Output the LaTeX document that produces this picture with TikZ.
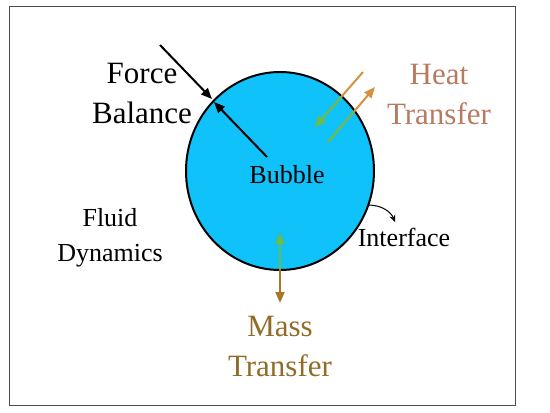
\documentclass[tikz,border=0pt]{standalone}
\usepackage{fontspec}
\setmainfont{Liberation Serif}
\usetikzlibrary{arrows.meta,shapes.geometric}
\definecolor{bub}{RGB}{16,194,250}
\definecolor{heatc}{RGB}{185,122,98}
\definecolor{massc}{RGB}{145,108,40}
\definecolor{orA}{RGB}{214,145,60}
\definecolor{orM}{RGB}{168,118,38}
\definecolor{grn}{RGB}{104,190,74}
\tikzset{
  big/.style={align=center, inner sep=0pt, font=\fontsize{31}{40}\selectfont},
  small/.style={align=center, inner sep=0pt, font=\fontsize{26}{35}\selectfont},
  arr/.style={line width=2pt, -{Triangle[length=11pt,width=9pt]}},
  arrs/.style={line width=2pt, {Triangle[length=11pt,width=9pt]}-{Triangle[length=11pt,width=9pt]}}
}
\begin{document}
\begin{tikzpicture}[x=1pt,y=-1pt]
\useasboundingbox (0,0) rectangle (550,413);
\draw[black!70, line width=0.9pt] (9,6) rectangle (515,405);
\node[ellipse, draw, fill=bub, line width=2pt, minimum width=188pt, minimum height=198pt, inner sep=0pt] (bubble) at (280,171) {};
% labels
\node[big] (force) at (142,93) {Force\\Balance};
\node[big, text=heatc] (heat) at (439,94) {Heat\\Transfer};
\node[big, text=massc] (mass) at (280,346) {Mass\\Transfer};
\node[small] (bubtxt) at (287,175) {Bubble};
\node[small] (fluid) at (110,238) {Fluid\\Dynamics};
\node[small] (iface) at (404,237) {Interface};
% coordinates
\coordinate (fa) at (160,45);
\coordinate (fb) at (212,99);
\coordinate (fc) at (267,157);
\coordinate (fd) at (214,102);
\coordinate (h1s) at (363,72);
\coordinate (h1e) at (315,127);
\coordinate (h2s) at (328,142);
\coordinate (h2e) at (375,87);
\coordinate (m1) at (280,233);
\coordinate (m2) at (280,303);
\coordinate (is) at (368,205);
\coordinate (ie) at (395,222);
% force arrows
\draw[arr] (fa) -- (fb);
\draw[arr] (fc) -- (fd);
% heat / mass arrows, orange outside
\draw[arr, orA] (h1s) -- (h1e);
\draw[arr, orA] (h2s) -- (h2e);
\draw[arrs, orM] (m1) -- (m2);
% green inside the bubble
\begin{scope}
\clip (280,171) ellipse [x radius=93pt, y radius=98pt];
\draw[arr, grn] (h1s) -- (h1e);
\draw[arr, grn] (h2s) -- (h2e);
\draw[arrs, grn] (m1) -- (m2);
\end{scope}
% interface arrow
\draw[line width=1pt, -{Stealth[length=7pt,width=6pt]}] (is) .. controls (382,205) and (391,212) .. (ie);
\end{tikzpicture}
\end{document}
